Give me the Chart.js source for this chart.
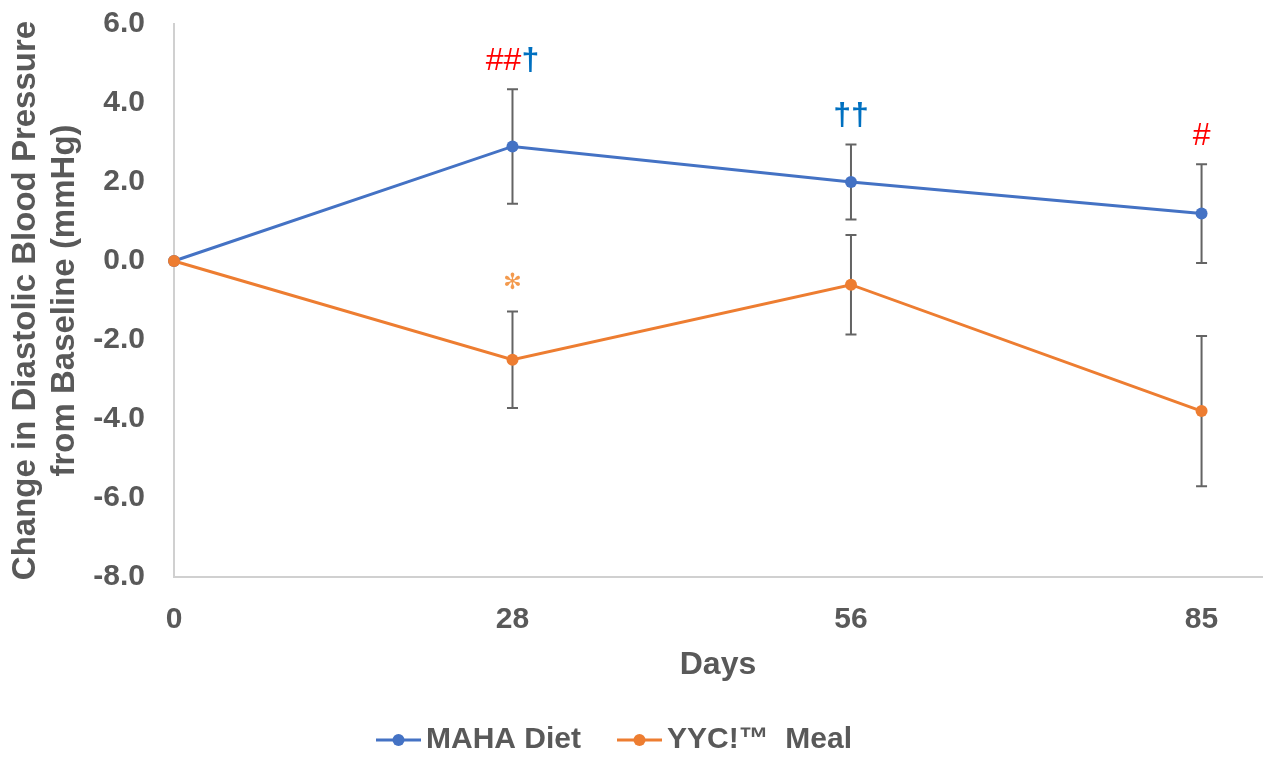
<!DOCTYPE html>
<html>
<head>
<meta charset="utf-8">
<script src="https://cdn.jsdelivr.net/npm/chart.js@4/dist/chart.umd.min.js"></script>
<style>
  html, body { margin: 0; padding: 0; background: #ffffff; }
  #wrap { width: 1268px; height: 760px; }
</style>
</head>
<body>
<div id="wrap"><canvas id="dbpChart" width="1268" height="760"></canvas></div>
<script>
// Cambio de presión diastólica respecto al basal
const days = [0, 28, 56, 85];
const yTicks = [-8, -6, -4, -2, 0, 2, 4, 6];

const mahaMean = [0, 2.9, 2.0, 1.2];
const mahaErr = [0, 1.45, 0.95, 1.25];
const mahaMarks = ['', '##†', '††', '#'];

const yycMean = [0, -2.5, -0.6, -3.8];
const yycErr = [0, 1.22, 1.26, 1.9];
const yycMarks = ['', '✻', '', ''];

const seriesNames = ['MAHA Diet', 'YYC!™  Meal'];

const AZUL = '#4472C4';
const NARANJA = '#ED7D31';
const GRIS = '#595959';
const FUENTE = "'Liberation Sans', Arial, sans-serif";

// colores de los símbolos de significancia
const colorMarca = { '#': '#FF0000', '†': '#0070C0', '✻': '#F39A4E' };

// icono de leyenda: línea con punto
const ICON_BOX = 61;
function iconoLeyenda(color) {
    const c = document.createElement('canvas');
    c.width = ICON_BOX + 20;
    c.height = 14;
    const g = c.getContext('2d');
    g.strokeStyle = color;
    g.lineWidth = 3;
    g.beginPath();
    g.moveTo(c.width - 45, 7);
    g.lineTo(c.width, 7);
    g.stroke();
    g.fillStyle = color;
    g.beginPath();
    g.arc(c.width - 22.5, 7, 6, 0, Math.PI * 2);
    g.fill();
    return c;
}
const iconos = [iconoLeyenda(AZUL), iconoLeyenda(NARANJA)];

function fuenteMarca(ch) {
    if (ch === '✻') return "22px 'DejaVu Sans', sans-serif";
    if (ch === '†') return 'bold 32px ' + FUENTE;
    return '32px ' + FUENTE;
}

// barras de error (debajo de los puntos) y marcas de significancia
const errorBars = {
    id: 'errorBars',
    beforeDatasetsDraw(chart) {
        const { ctx, scales: { x, y } } = chart;
        ctx.save();
        ctx.strokeStyle = '#646464';
        ctx.lineWidth = 2;
        chart.data.datasets.forEach(ds => {
            ds.data.forEach((p, i) => {
                const e = ds.errors[i];
                if (!e) return;
                const px = x.getPixelForValue(p.x);
                const top = y.getPixelForValue(p.y + e);
                const bot = y.getPixelForValue(p.y - e);
                ctx.beginPath();
                ctx.moveTo(px, top); ctx.lineTo(px, bot);
                ctx.moveTo(px - 5.5, top); ctx.lineTo(px + 5.5, top);
                ctx.moveTo(px - 5.5, bot); ctx.lineTo(px + 5.5, bot);
                ctx.stroke();
            });
        });
        ctx.restore();
    },
    afterDatasetsDraw(chart) {
        const { ctx, scales: { x, y } } = chart;
        ctx.save();
        ctx.textBaseline = 'middle';
        ctx.textAlign = 'left';
        chart.data.datasets.forEach(ds => {
            ds.data.forEach((p, i) => {
                const txt = ds.marks[i];
                if (!txt) return;
                const chars = Array.from(txt);
                const widths = chars.map(ch => { ctx.font = fuenteMarca(ch); return ctx.measureText(ch).width; });
                const total = widths.reduce((a, b) => a + b, 0);
                let cx = x.getPixelForValue(p.x) - total / 2;
                const cy = y.getPixelForValue(p.y + ds.errors[i]) - 28;
                chars.forEach((ch, k) => {
                    ctx.font = fuenteMarca(ch);
                    ctx.fillStyle = colorMarca[ch] || GRIS;
                    ctx.fillText(ch, cx, cy);
                    cx += widths[k];
                });
            });
        });
        ctx.restore();
    }
};

// ajuste fino de la leyenda
const legendShift = {
    id: 'legendShift',
    afterLayout(chart) {
        const lg = chart.legend;
        lg.left -= 33; lg.right -= 33;
        lg.top += 5; lg.bottom += 5;
    }
};

function puntos(valores) {
    return days.map((d, i) => ({ x: d, y: valores[i] }));
}

const ctx = document.getElementById('dbpChart');
new Chart(ctx, {
    type: 'line',
    data: {
        datasets: [{
            label: seriesNames[0],
            data: puntos(mahaMean),
            errors: mahaErr,
            marks: mahaMarks,
            borderColor: AZUL,
            backgroundColor: AZUL,
            pointBackgroundColor: AZUL,
            pointBorderColor: AZUL,
            borderWidth: 3,
            pointRadius: 6,
            pointBorderWidth: 0,
            tension: 0,
            clip: false,
            order: 1
        }, {
            label: seriesNames[1],
            data: puntos(yycMean),
            errors: yycErr,
            marks: yycMarks,
            borderColor: NARANJA,
            backgroundColor: NARANJA,
            pointBackgroundColor: NARANJA,
            pointBorderColor: NARANJA,
            borderWidth: 3,
            pointRadius: 6,
            pointBorderWidth: 0,
            tension: 0,
            clip: false,
            order: 0
        }]
    },
    options: {
        responsive: false,
        animation: false,
        layout: { padding: { top: 24, right: 0, left: 0, bottom: 0 } },
        plugins: {
            tooltip: { enabled: false },
            legend: {
                position: 'bottom',
                align: 'center',
                labels: {
                    usePointStyle: true,
                    pointStyleWidth: ICON_BOX,
                    padding: 10,
                    color: GRIS,
                    font: { size: 30, weight: 'bold', family: FUENTE },
                    sort: (a, b) => a.datasetIndex - b.datasetIndex,
                    generateLabels(chart) {
                        const items = Chart.defaults.plugins.legend.labels.generateLabels(chart);
                        items.forEach(it => { it.pointStyle = iconos[it.datasetIndex]; });
                        return items;
                    }
                }
            }
        },
        scales: {
            x: {
                type: 'linear',
                min: 0,
                max: 90,
                afterBuildTicks: scale => { scale.ticks = days.map(v => ({ value: v })); },
                afterFit: scale => { scale.height = 133; },
                grid: { display: false, drawTicks: false },
                border: { display: true, color: '#D0D0D0', width: 2 },
                ticks: {
                    autoSkip: false,
                    maxRotation: 0,
                    padding: 25,
                    color: GRIS,
                    font: { size: 30, weight: 'bold', family: FUENTE },
                    callback: v => String(v)
                },
                title: {
                    display: true,
                    text: 'Days',
                    color: GRIS,
                    font: { size: 32, weight: 'bold', family: FUENTE },
                    padding: { top: 0, bottom: 26 }
                }
            },
            y: {
                min: -8,
                max: 6,
                afterBuildTicks: scale => { scale.ticks = yTicks.map(v => ({ value: v })); },
                afterFit: scale => {
                    scale.width = 174;
                    scale.paddingTop = 0;
                    scale.paddingBottom = 0;
                },
                grid: { display: false, drawTicks: false },
                border: { display: true, color: '#D0D0D0', width: 2 },
                ticks: {
                    padding: 29,
                    color: GRIS,
                    font: { size: 30, weight: 'bold', family: FUENTE },
                    callback: v => v.toFixed(1)
                },
                title: {
                    display: true,
                    text: ['Change in Diastolic Blood Pressure', 'from Baseline (mmHg)'],
                    color: GRIS,
                    font: { size: 33, weight: 'bold', family: FUENTE },
                    padding: { top: 6, bottom: 0 }
                }
            }
        }
    },
    plugins: [errorBars, legendShift]
});
</script>
</body>
</html>
